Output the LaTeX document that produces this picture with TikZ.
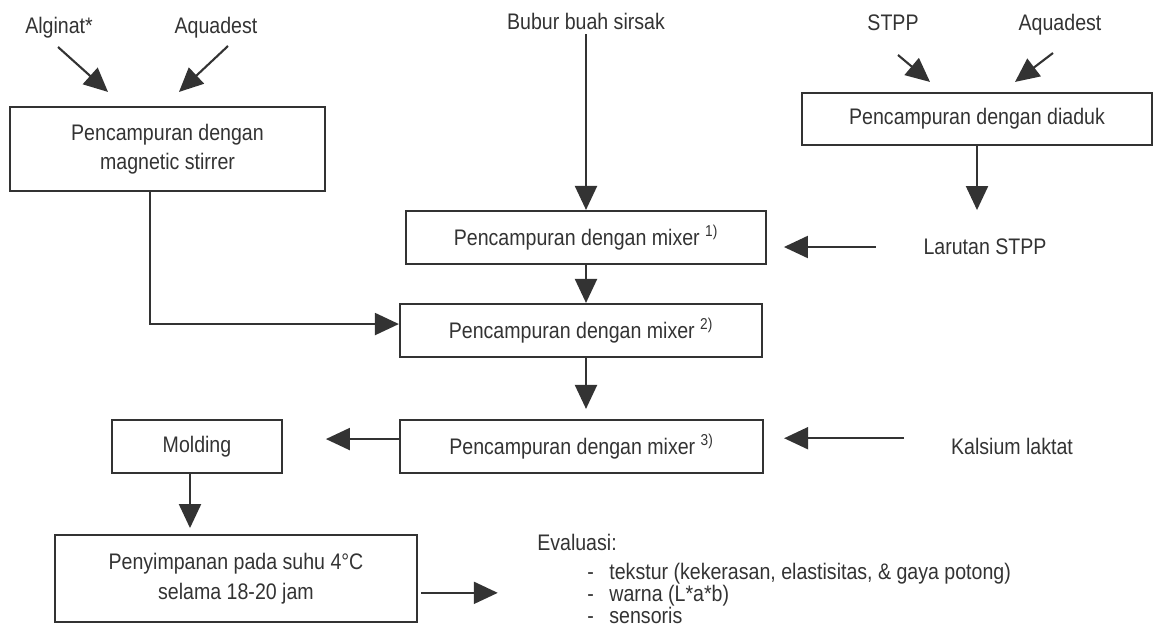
\documentclass[tikz,border=0pt]{standalone}
\usepackage{fontspec}
\setmainfont{Liberation Sans}[FakeStretch=0.87]
\usepackage{tikz}
\usetikzlibrary{shapes.geometric, arrows.meta, calc, positioning}
\definecolor{ink}{HTML}{333333}
\tikzstyle{process} = [rectangle, draw=ink, line width=1.5pt, text=ink, align=center, inner sep=2pt]
\tikzstyle{term} = [text=ink, anchor=base]
\tikzstyle{arrow} = [draw=ink, line width=1.5pt, -{Triangle[length=0.6cm, width=0.55cm]}]

\begin{document}
\begin{tikzpicture}[x=0.025cm, y=-0.025cm, every node/.style={font=\fontsize{16pt}{21pt}\selectfont}]
\useasboundingbox (0,0) rectangle (1155,632);
% inputs
\node (alg) [term] at (59,33) {Alginat*};
\node (aqua1) [term] at (216,33) {Aquadest};
\node (bubur) [term] at (586,29) {Bubur buah sirsak};
\node (stpp) [term] at (893,30) {STPP};
\node (aqua2) [term] at (1060,30) {Aquadest};
% process boxes
\node (stir) [process, minimum width=7.875cm, minimum height=2.1cm] at (167.5,149) {Pencampuran dengan\\magnetic stirrer};
\node (aduk) [process, minimum width=8.75cm, minimum height=1.3cm] at (977,119) {Pencampuran dengan diaduk};
\node (mix1) [process, minimum width=9cm, minimum height=1.325cm] at (586,237.5) {Pencampuran dengan mixer \textsuperscript{1)}};
\node (mix2) [process, minimum width=9.05cm, minimum height=1.325cm] at (581,330.5) {Pencampuran dengan mixer \textsuperscript{2)}};
\node (mix3) [process, minimum width=9.075cm, minimum height=1.325cm] at (581.5,446.5) {Pencampuran dengan mixer \textsuperscript{3)}};
\node (mold) [process, minimum width=4.25cm, minimum height=1.325cm] at (197,446.5) {Molding};
\node (simpan) [process, minimum width=9.05cm, minimum height=2.175cm] at (236,578.5) {Penyimpanan pada suhu 4°C\\selama 18-20 jam};
\node (larutan) [text=ink] at (985,247) {Larutan STPP};
\node (kals) [term] at (1012,454) {Kalsium laktat};
\node (eval) [text=ink, anchor=north west, inner sep=0pt, align=left, font=\fontsize{16pt}{15.5pt}\selectfont] at (537,534) {Evaluasi:\\[5pt]
  \hspace*{1.25cm}-\hspace{0.39cm}tekstur (kekerasan, elastisitas, \& gaya potong)\\
  \hspace*{1.25cm}-\hspace{0.39cm}warna (L*a*b)\\
  \hspace*{1.25cm}-\hspace{0.39cm}sensoris};
% arrows
\draw [arrow] ($(alg.base)+(-1,14)$) -- ($(stir.north)+(-59.5,-14)$);
\draw [arrow] ($(aqua1.base)+(12,13)$) -- ($(stir.north)+(11.5,-14)$);
\draw [arrow] ($(stpp.base)+(5,25)$) -- ($(aduk.north)+(-47,-10)$);
\draw [arrow] ($(aqua2.base)+(-7,23)$) -- ($(aduk.north)+(38,-10)$);
\draw [arrow] (bubur.south) -- (mix1.north);
\draw [arrow, shorten >=0.6cm] (aduk.south) -- (aduk.south |- larutan.north);
\draw [arrow, shorten <=1.07cm, shorten >=0.42cm] (larutan.west) -- (larutan.west -| mix1.east);
\draw [arrow] (mix1.south) -- (mix1.south |- mix2.north);
\draw [arrow] ($(stir.south)+(-17.5,0)$) |- ([yshift=4.6pt]mix2.west);
\draw [arrow, shorten >=0.25cm] (mix1.south |- mix2.south) -- (mix1.south |- mix3.north);
\draw [arrow, shorten <=1.05cm, shorten >=0.5cm] ([yshift=5.5pt]kals.west) -- ([yshift=5.5pt]kals.west -| mix3.east);
\draw [arrow, shorten >=1.07cm] ([yshift=5.3pt]mix3.west) -- ([yshift=5.3pt]mix3.west -| mold.east);
\draw [arrow] ($(mold.south)+(-7,0)$) -- ($(mold.south)+(-7,54)$);
\draw [arrow, shorten <=0.08cm, shorten >=0.98cm] ([yshift=-10.2pt]simpan.east) -- ([yshift=-10.2pt]simpan.east -| eval.west);
\end{tikzpicture}
\end{document}
